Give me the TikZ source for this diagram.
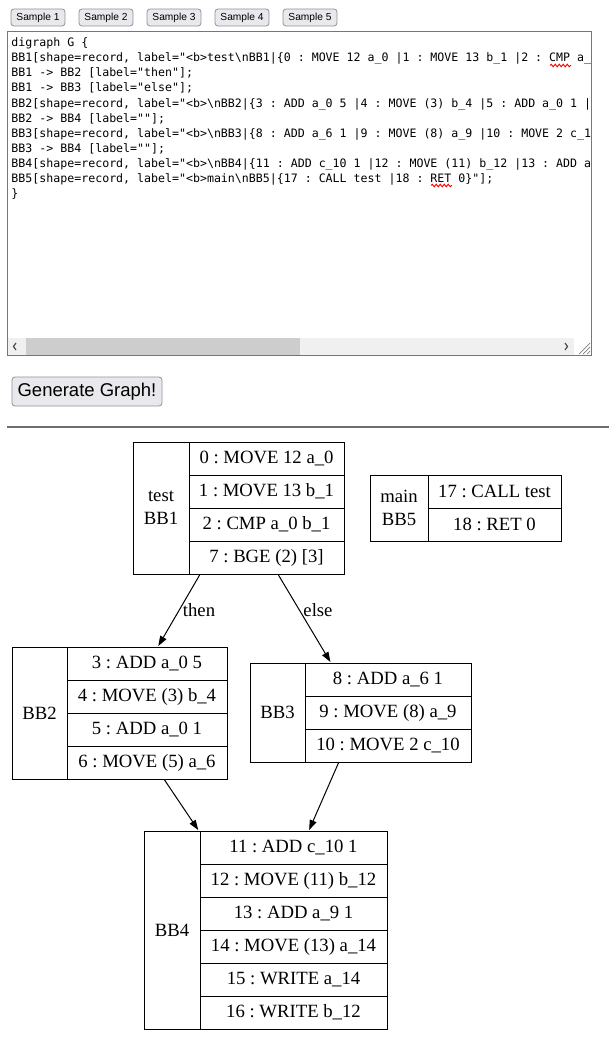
\documentclass[tikz,border=0pt]{standalone}
\usepackage{fontspec}
\setmainfont{Liberation Serif}
\newfontfamily\codefont{DejaVu Sans Mono}
\newfontfamily\uifont{Liberation Sans}
\usetikzlibrary{arrows.meta,fit,decorations.pathmorphing}
\definecolor{btnfill}{HTML}{E9E9ED}
\definecolor{btnedge}{HTML}{8F8F9D}
\definecolor{areaedge}{HTML}{767676}
\definecolor{trackgray}{HTML}{F0F0F0}
\definecolor{thumbgray}{HTML}{CDCDCD}
\definecolor{rulegray}{HTML}{6E6E6E}
\frenchspacing

\begin{document}
\begin{tikzpicture}[x=1pt,y=-1pt,line width=1pt,
	rec/.style={draw,inner sep=0pt,minimum height=33pt,font=\fontsize{18.7}{23.5}\selectfont},
	btn/.style={draw=btnedge,fill=btnfill,rounded corners=3pt,inner sep=0pt,line width=.8pt},
	code/.style={anchor=base west,inner sep=0pt,font=\codefont\fontsize{11.6}{15}\selectfont},
	lbl/.style={inner sep=0pt,font=\fontsize{18.7}{23}\selectfont},
	flow/.style={-{Triangle[length=10pt,width=7pt]}},
	squiggle/.style={red,line width=.9pt,decorate,decoration={snake,amplitude=1.3pt,segment length=4pt}}]
			\useasboundingbox (0,0) rectangle (609,1057);
			
			% sample buttons
			\node[btn,minimum width=54pt,minimum height=17pt,font=\uifont\fontsize{10.2}{12}\selectfont] (s1) at (38,17.5) {Sample 1};
			\node[btn,minimum width=54pt,minimum height=17pt,font=\uifont\fontsize{10.2}{12}\selectfont] (s2) at (106,17.5) {Sample 2};
			\node[btn,minimum width=54pt,minimum height=17pt,font=\uifont\fontsize{10.2}{12}\selectfont] (s3) at (174,17.5) {Sample 3};
			\node[btn,minimum width=54pt,minimum height=17pt,font=\uifont\fontsize{10.2}{12}\selectfont] (s4) at (242,17.5) {Sample 4};
			\node[btn,minimum width=54pt,minimum height=17pt,font=\uifont\fontsize{10.2}{12}\selectfont] (s5) at (310,17.5) {Sample 5};
			
			% text area
			\draw[areaedge] (7.5,31.5) rectangle (591,355.5);
			\begin{scope}
			\clip (8,32) rectangle (590,337);
			\node[code] (src0) at (11,47) {digraph G \{};
			\node[code] (src1) at (11,62) {BB1[shape=record, label="<b>test\textbackslash nBB1|\{0 : MOVE 12 a\_0 |1 : MOVE 13 b\_1 |2 : CMP a\_};
			\node[code] (src2) at (11,77) {BB1 -> BB2 [label="then"];};
			\node[code] (src3) at (11,92) {BB1 -> BB3 [label="else"];};
			\node[code] (src4) at (11,107) {BB2[shape=record, label="<b>\textbackslash nBB2|\{3 : ADD a\_0 5 |4 : MOVE (3) b\_4 |5 : ADD a\_0 1 |};
			\node[code] (src5) at (11,122) {BB2 -> BB4 [label=""];};
			\node[code] (src6) at (11,137) {BB3[shape=record, label="<b>\textbackslash nBB3|\{8 : ADD a\_6 1 |9 : MOVE (8) a\_9 |10 : MOVE 2 c\_1};
			\node[code] (src7) at (11,152) {BB3 -> BB4 [label=""];};
			\node[code] (src8) at (11,167) {BB4[shape=record, label="<b>\textbackslash nBB4|\{11 : ADD c\_10 1 |12 : MOVE (11) b\_12 |13 : ADD a};
			\node[code] (src9) at (11,182) {BB5[shape=record, label="<b>main\textbackslash nBB5|\{17 : CALL test |18 : RET 0\}"];};
			\node[code] (src10) at (11,197) {\}};
			\end{scope}
			\draw[squiggle] (550,65.5) -- (571,65.5);
			\draw[squiggle] (431,185.5) -- (452,185.5);
			
			% scroll bar
			\fill[trackgray] (8,338) rectangle (574,355);
			\fill[thumbgray] (26,338) rectangle (300,355);
			\draw[black!70,line width=1.2pt] (16,343) -- (13.5,346.5) -- (16,350);
			\draw[black!70,line width=1.2pt] (565,343) -- (567.5,346.5) -- (565,350);
			\draw[black!50,line width=.7pt] (579,354) -- (590,343) (583,354) -- (590,347) (587,354) -- (590,351);
			
			\node[btn,minimum width=150pt,minimum height=29pt,font=\uifont\fontsize{18.5}{22}\selectfont] (gen) at (87,391.5) {Generate Graph!};
			\draw[rulegray,line width=2pt] (7,427) -- (609,427);
			
			% BB1
			\node[rec,minimum width=56pt,minimum height=132pt,align=center] (bb1name) at (161,508) {test\\BB1};
			\node[rec,minimum width=155pt] (bb1r0) at (266.5,458.5) {0 : MOVE 12 a\_0};
			\node[rec,minimum width=155pt] (bb1r1) at (266.5,491.5) {1 : MOVE 13 b\_1};
			\node[rec,minimum width=155pt] (bb1r2) at (266.5,524.5) {2 : CMP a\_0 b\_1};
			\node[rec,minimum width=155pt] (bb1r3) at (266.5,557.5) {7 : BGE (2) [3]};
			\node[fit=(bb1name)(bb1r0)(bb1r3),inner sep=0pt] (bb1) {};
			
			% BB5
			\node[rec,minimum width=58pt,minimum height=66pt,align=center] (bb5name) at (399,508) {main\\BB5};
			\node[rec,minimum width=133pt] (bb5r0) at (494.5,491.5) {17 : CALL test};
			\node[rec,minimum width=133pt] (bb5r1) at (494.5,524.5) {18 : RET 0};
			
			% BB2
			\node[rec,minimum width=55pt,minimum height=132pt] (bb2name) at (39.5,713) {BB2};
			\node[rec,minimum width=160pt] (bb2r0) at (147,663.5) {3 : ADD a\_0 5};
			\node[rec,minimum width=160pt] (bb2r1) at (147,696.5) {4 : MOVE (3) b\_4};
			\node[rec,minimum width=160pt] (bb2r2) at (147,729.5) {5 : ADD a\_0 1};
			\node[rec,minimum width=160pt] (bb2r3) at (147,762.5) {6 : MOVE (5) a\_6};
			\node[fit=(bb2name)(bb2r0)(bb2r3),inner sep=0pt] (bb2) {};
			
			% BB3
			\node[rec,minimum width=55pt,minimum height=99pt] (bb3name) at (277.5,712.5) {BB3};
			\node[rec,minimum width=166pt] (bb3r0) at (388,679.5) {8 : ADD a\_6 1};
			\node[rec,minimum width=166pt] (bb3r1) at (388,712.5) {9 : MOVE (8) a\_9};
			\node[rec,minimum width=166pt] (bb3r2) at (388,745.5) {10 : MOVE 2 c\_10};
			\node[fit=(bb3name)(bb3r0)(bb3r2),inner sep=0pt] (bb3) {};
			
			% BB4
			\node[rec,minimum width=56pt,minimum height=198pt] (bb4name) at (172,930) {BB4};
			\node[rec,minimum width=187pt] (bb4r0) at (293.5,847.5) {11 : ADD c\_10 1};
			\node[rec,minimum width=187pt] (bb4r1) at (293.5,880.5) {12 : MOVE (11) b\_12};
			\node[rec,minimum width=187pt] (bb4r2) at (293.5,913.5) {13 : ADD a\_9 1};
			\node[rec,minimum width=187pt] (bb4r3) at (293.5,946.5) {14 : MOVE (13) a\_14};
			\node[rec,minimum width=187pt] (bb4r4) at (293.5,979.5) {15 : WRITE a\_14};
			\node[rec,minimum width=187pt] (bb4r5) at (293.5,1012.5) {16 : WRITE b\_12};
			\node[fit=(bb4name)(bb4r0)(bb4r5),inner sep=0pt] (bb4) {};
			
			% edges
			\draw[flow] (bb1) -- (bb2);
			\draw[flow] (bb1) -- (bb3);
			\draw[flow] (bb2) -- (bb4);
			\draw[flow] (bb3) -- (bb4);
			\node[lbl] (then) at (199,610) {then};
			\node[lbl] (else) at (318,610) {else};
			\end{tikzpicture}
\end{document}
